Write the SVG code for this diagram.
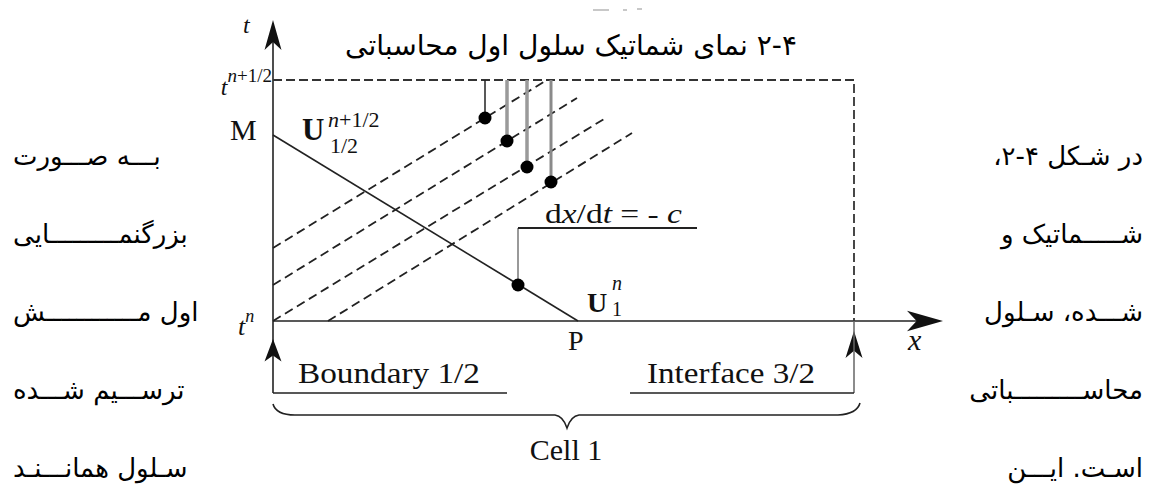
<svg xmlns="http://www.w3.org/2000/svg" width="1149" height="493" viewBox="0 0 1149 493">
<style>
.ln{stroke:#222;stroke-width:1.6;fill:none}
.dash{stroke:#222;stroke-width:1.8;fill:none;stroke-dasharray:9 5}
.box{stroke:#333;stroke-width:1.8;fill:none;stroke-dasharray:9 4}
.gv{stroke:#9a9a9a;stroke-width:3.5}
.dot{fill:#000}
.sf{font-family:"Liberation Serif","Times New Roman",serif;fill:#111}
.it{font-style:italic}
.bd{font-weight:bold}
.fa{font-family:"DejaVu Sans","Noto Sans",sans-serif;fill:#000}
</style>
<defs>
<path id="ah" d="M0,0 L8.5,30 L0,22 L-8.5,30 Z" fill="#111"/>
</defs>
<rect width="1149" height="493" fill="#fff"/>

<g id="faint" stroke="#c8c8c8" stroke-width="2">
<line x1="593" y1="10" x2="609" y2="10"/><line x1="623" y1="10" x2="627" y2="10"/><line x1="637" y1="9" x2="642" y2="9"/>
</g>

<text id="title" class="fa" x="571" y="55" font-size="28" text-anchor="middle" direction="rtl" textLength="452" lengthAdjust="spacingAndGlyphs">۲-۴ نمای شماتیک سلول اول محاسباتی</text>

<g id="axes">
<line class="ln" x1="273" y1="24" x2="273" y2="393"/>
<use href="#ah" x="273" y="20"/>
<line class="ln" x1="273" y1="321" x2="935" y2="321"/>
<use href="#ah" transform="translate(943,321) rotate(90) scale(1.2)"/>
<use href="#ah" transform="translate(273,339) scale(1,0.75)"/>
<use href="#ah" transform="translate(854,331) scale(1,0.9)"/>
<path class="box" d="M273,80 H854 V321"/>
<line x1="854" y1="321" x2="854" y2="393" stroke="#666" stroke-width="1.5"/>
<path class="ln" d="M273,393 H507 M630,393 H854"/>
<path class="ln" d="M273,404 Q276,415 295,415 L555,415 Q563,416 567,428 Q571,416 579,415 L838,415 Q857,414 860,403"/>
</g>

<g id="connectors">
<line class="ln" x1="273" y1="135" x2="578" y2="321"/>
<line class="dash" x1="273" y1="248" x2="547" y2="80"/>
<line class="dash" x1="273" y1="285" x2="577" y2="98"/>
<line class="dash" x1="273" y1="321" x2="604" y2="119"/>
<line class="dash" x1="328" y1="321" x2="632" y2="133"/>
<line x1="485" y1="80" x2="485" y2="118" stroke="#222" stroke-width="1.5"/>
<line class="gv" x1="507" y1="80" x2="507" y2="141"/>
<line class="gv" x1="527" y1="80" x2="527" y2="167"/>
<line x1="551" y1="80" x2="551" y2="182" stroke="#8a8a8a" stroke-width="3"/>
<line x1="518" y1="228" x2="518" y2="285" stroke="#777" stroke-width="1.5"/>
<line x1="518" y1="228" x2="697" y2="228" stroke="#222" stroke-width="2"/>
</g>

<g id="dots">
<circle class="dot" cx="485" cy="118" r="6.5"/>
<circle class="dot" cx="507" cy="141" r="6.5"/>
<circle class="dot" cx="527" cy="167" r="6.5"/>
<circle class="dot" cx="551" cy="182" r="6.5"/>
<circle class="dot" cx="518" cy="285" r="6.5"/>
</g>

<g id="labels" class="sf">
<text class="it" x="243" y="33" font-size="24">t</text>
<text x="272" y="95" text-anchor="end" font-size="24"><tspan class="it">t</tspan><tspan font-size="19" dy="-13"><tspan class="it">n</tspan>+1/2</tspan></text>
<text x="230" y="140" font-size="30">M</text>
<text x="302" y="140" font-size="31" class="bd">U</text>
<text x="328" y="127" font-size="22"><tspan class="it">n</tspan>+1/2</text>
<text x="330" y="153" font-size="22">1/2</text>
<text x="545" y="223" font-size="28" textLength="137" lengthAdjust="spacingAndGlyphs">d<tspan class="it">x</tspan>/d<tspan class="it">t</tspan> = - <tspan class="it">c</tspan></text>
<text x="587" y="312" font-size="28" class="bd">U</text>
<text x="612" y="290" font-size="20" class="it">n</text>
<text x="612" y="316" font-size="20">1</text>
<text x="238" y="335" font-size="26"><tspan class="it">t</tspan><tspan class="it" font-size="18" dy="-13">n</tspan></text>
<text x="568" y="350" font-size="28">P</text>
<text x="908" y="350" font-size="30" class="it">x</text>
<text x="298" y="383" font-size="30" textLength="182" lengthAdjust="spacingAndGlyphs">Boundary 1/2</text>
<text x="647" y="383" font-size="30" textLength="168" lengthAdjust="spacingAndGlyphs">Interface 3/2</text>
<text x="566" y="460" font-size="30" text-anchor="middle">Cell 1</text>
</g>

<g id="para-right" class="fa" font-size="26" direction="rtl" text-anchor="start">
<text x="1143" y="165">در شـکل ۴-۲،</text>
<text x="1143" y="243">شـــــماتیک و</text>
<text x="1143" y="321">شـــده، سـلول</text>
<text x="1143" y="399">محاســـــــــباتی</text>
<text x="1143" y="477">اسـت. ایـــن</text>
</g>
<g id="para-left" class="fa" font-size="26" direction="rtl" text-anchor="end">
<text x="13" y="165">بـــه صـــورت</text>
<text x="13" y="243">بزرگنمـــــــــایی</text>
<text x="13" y="321">اول مــــــــــــش</text>
<text x="13" y="399">ترســـیم شـــده</text>
<text x="13" y="477">سـلول همانـــنـد</text>
</g>
</svg>
